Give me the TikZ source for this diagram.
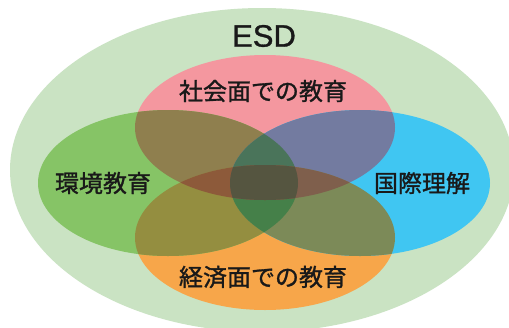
\documentclass[tikz,border=0pt]{standalone}
\usepackage{fontspec}
\setmainfont{Liberation Sans}
\newfontfamily\jp[FakeBold=1.2]{Noto Sans CJK JP}
\newfontfamily\esdfont[FakeBold=1.0]{Liberation Sans}
\definecolor{outerc}{HTML}{CAE3C3}
\definecolor{pinkc}{HTML}{F4979F}
\definecolor{greenc}{HTML}{86C466}
\definecolor{cyanc}{HTML}{40C6F2}
\definecolor{orangec}{HTML}{F7A64A}
\definecolor{pg}{HTML}{8F7F4E}
\definecolor{pc}{HTML}{737BA0}
\definecolor{og}{HTML}{948E40}
\definecolor{oc}{HTML}{7C8A58}
\definecolor{pgc}{HTML}{4A745A}
\definecolor{ogc}{HTML}{458049}
\definecolor{pog}{HTML}{8D5A3A}
\definecolor{poc}{HTML}{7F5F4C}
\definecolor{pogc}{HTML}{555540}
\tikzset{
  jplabel/.style={font=\jp\fontsize{24}{24}\selectfont, text=black!90, inner sep=0pt},
  esdlabel/.style={font=\esdfont\fontsize{31}{31}\selectfont, text=black!90, inner sep=0pt},
}
\newcommand{\Pell}{(265,127.5) ellipse [x radius=130pt, y radius=72.5pt]}
\newcommand{\Oell}{(265,237.5) ellipse [x radius=130pt, y radius=72.5pt]}
\newcommand{\Gell}{(168,183) ellipse [x radius=130pt, y radius=73pt]}
\newcommand{\Cell}{(360,183) ellipse [x radius=130pt, y radius=73pt]}
\begin{document}
\begin{tikzpicture}[x=1pt,y=-1pt]
\useasboundingbox (0,0) rectangle (509,327);
\clip (0,0) rectangle (509,327);
\fill[white] (0,0) rectangle (509,327);
\fill[outerc] (262,170) ellipse [x radius=252pt, y radius=162pt];
\fill[pinkc] \Pell;
\fill[orangec] \Oell;
\fill[greenc] \Gell;
\fill[cyanc] \Cell;
% pairs
\begin{scope}\clip \Pell; \fill[pg] \Gell; \fill[pc] \Cell; \end{scope}
\begin{scope}\clip \Oell; \fill[og] \Gell; \fill[oc] \Cell; \end{scope}
% triples
\begin{scope}\clip \Gell; \clip \Cell; \fill[pgc] \Pell; \fill[ogc] \Oell; \end{scope}
\begin{scope}\clip \Pell; \clip \Oell; \fill[pog] \Gell; \fill[poc] \Cell; \end{scope}
% quadruple
\begin{scope}\clip \Pell; \clip \Oell; \clip \Gell; \fill[pogc] \Cell; \end{scope}
% labels
\node[esdlabel] (esd) at (264,36) {ESD};
\node[jplabel] (soc) at (263,91) {社会面での教育};
\node[jplabel] (env) at (103,183) {環境教育};
\node[jplabel] (intl) at (422,183) {国際理解};
\node[jplabel] (eco) at (263,277) {経済面での教育};
\end{tikzpicture}
\end{document}
